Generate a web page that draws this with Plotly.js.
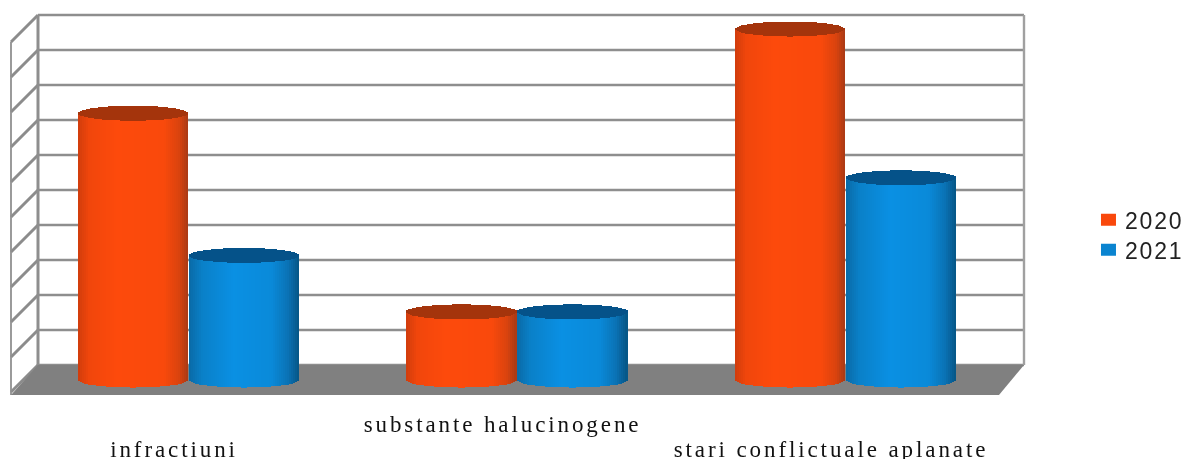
<!DOCTYPE html>
<html>
<head>
<meta charset="utf-8">
<script src="https://cdn.plot.ly/plotly-3.0.1.min.js"></script>
<style>
html,body{margin:0;padding:0;background:#fff;}
#chart{width:1186px;height:459px;filter:blur(0.65px);}
.xtick text{letter-spacing:2.9px;}
.xtick:nth-child(odd) text{translate:0 -5px;}
.legendtext{letter-spacing:1.8px;}
.legendpoints path{transform:translate(23.5px,0) scale(1.25,1);}
.legend .traces:first-child{translate:0 1px;}
.legend .traces:last-child{translate:0 -2px;}
</style>
</head>
<body>
<div id="chart"></div>
<script>
// ---- data ----
const categories = ["infractiuni", "substante halucinogene", "stari conflictuale aplanate"];
const tickLabels = ["<br>infractiuni", "substante halucinogene", "<br>stari conflictuale aplanate"];
const values2020 = [7.6, 1.94, 10.0];
const values2021 = [3.55, 1.94, 5.76];

// ---- geometry of the pseudo-3D box, in page pixels ----
const W = 1186, H = 459;
const plotL = 11, plotR = 1024, plotT = 15, plotB = 395;
const wallL = 38, frontR = 999, floorBack = 365;
const pxPerCat = 328.5, firstCentre = 188;
const pxPerUnit = 35.1, zeroPx = 380;
const barPx = 110, ellipsePx = 7.5, slices = 55;

const xFromPx = p => (p - firstCentre) / pxPerCat;
const yFromPx = p => (zeroPx - p) / pxPerUnit;
const paperX = p => (p - plotL) / (plotR - plotL);
const paperY = p => (plotB - p) / (plotB - plotT);

function hex(c){return [1,3,5].map(i=>parseInt(c.substr(i,2),16));}
function ramp(stops,t){
  for(let i=1;i<stops.length;i++){
    if(t<=stops[i][0]){
      const a=stops[i-1],b=stops[i],f=(t-a[0])/(b[0]-a[0]);
      const ca=hex(a[1]),cb=hex(b[1]);
      return 'rgb('+ca.map((v,k)=>Math.round(v+(cb[k]-v)*f)).join(',')+')';
    }
  }
  return stops[stops.length-1][1];
}
const orangeStops=[[0,'#d03c0c'],[0.1,'#f0460c'],[0.35,'#fd4a0c'],[0.78,'#f9490c'],[0.92,'#d9430e'],[1,'#a83a16']];
const blueStops=[[0,'#0a6aa6'],[0.12,'#0a80c8'],[0.4,'#0a90e3'],[0.75,'#0a8ad9'],[0.9,'#0a72b5'],[1,'#065585']];
const orangeTop='#a4340c', blueTop='#055289';
const orangeLegend='#f9480c', blueLegend='#0a84d0';

function cylinderTraces(name, vals, offsetPx, stops, topColor, legendColor){
  const bx=[],bb=[],by=[],bc=[],tx=[],tb=[],ty=[];
  const w=(barPx/slices)/pxPerCat*1.1;
  vals.forEach((v,c)=>{
    for(let i=0;i<slices;i++){
      const u=(i+0.5)/slices, t=u*2-1, s=Math.sqrt(1-t*t)*ellipsePx/pxPerUnit;
      const x=c+(offsetPx+t*barPx/2)/pxPerCat;
      bx.push(x);bb.push(-s);by.push(v+s);bc.push(ramp(stops,u));
      tx.push(x);tb.push(v-s);ty.push(2*s);
    }
  });
  return [
    {type:'bar',name:name,legendgroup:name,showlegend:false,x:bx,y:by,base:bb,width:w,
     marker:{color:bc,line:{width:0}},hoverinfo:'skip'},
    {type:'bar',name:name,legendgroup:name,showlegend:false,x:tx,y:ty,base:tb,width:w,
     marker:{color:topColor,line:{width:0}},hoverinfo:'skip'},
    {type:'bar',name:name,legendgroup:name,showlegend:true,x:[0],y:[null],
     marker:{color:legendColor,line:{width:0}},hoverinfo:'skip'}
  ];
}

const traces=[].concat(
  cylinderTraces('2020',values2020,-55,orangeStops,orangeTop,orangeLegend),
  cylinderTraces('2021',values2021,56,blueStops,blueTop,blueLegend)
);

// ---- box: walls, grid, floor ----
const grid='#8e8e8e';
const shapes=[];
function line(x0,y0,x1,y1,color,width){
  shapes.push({type:'line',layer:'below',xref:'paper',yref:'paper',
    x0:paperX(x0),y0:paperY(y0),x1:paperX(x1),y1:paperY(y1),line:{color:color,width:width}});
}
for(let k=0;k<=10;k++){
  const y=floorBack-(floorBack-plotT)*k/10;
  line(wallL,y,plotR,y,grid,2.6);
  line(wallL,y,plotL,y+27,'#8c8c8c',3);
}
line(wallL,plotT,wallL,floorBack,grid,3);
line(plotR,plotT,plotR,floorBack,'#a0a0a0',2.4);
line(plotL,plotT+27,plotL,plotB,'#909090',1.8);
shapes.push({type:'path',layer:'below',xref:'paper',yref:'paper',
  path:'M'+paperX(wallL)+','+paperY(floorBack)+' L'+paperX(plotR)+','+paperY(floorBack)+
       ' L'+paperX(frontR)+','+paperY(plotB)+' L'+paperX(plotL)+','+paperY(plotB)+' Z',
  fillcolor:'#808080',line:{width:0}});

const layout={
  width:W,height:H,
  margin:{l:plotL,r:W-plotR,t:plotT,b:H-plotB,pad:0,autoexpand:false},
  paper_bgcolor:'#fff',plot_bgcolor:'rgba(0,0,0,0)',
  barmode:'overlay',bargap:0,
  showlegend:true,
  legend:{x:1.0602,xanchor:'left',y:0.42,yanchor:'middle',
    font:{family:'"Liberation Sans",Arial,sans-serif',size:23,color:'#222222'},
    bgcolor:'rgba(0,0,0,0)',itemclick:false,itemdoubleclick:false,traceorder:'normal'},
  xaxis:{range:[xFromPx(plotL),xFromPx(plotR)],showgrid:false,zeroline:false,showline:false,
    tickmode:'array',tickvals:categories.map((c,i)=>i-14/pxPerCat),ticktext:tickLabels,ticks:'',
    ticklabelstandoff:13,tickangle:0,
    tickfont:{family:'"Liberation Serif","Times New Roman",serif',size:23,color:'#111111'},fixedrange:true},
  yaxis:{range:[yFromPx(plotB),yFromPx(plotT)],showgrid:false,zeroline:false,showline:false,
    showticklabels:false,ticks:'',fixedrange:true},
  shapes:shapes
};
Plotly.newPlot('chart',traces,layout,{displayModeBar:false,responsive:false,staticPlot:true});
</script>
</body>
</html>
